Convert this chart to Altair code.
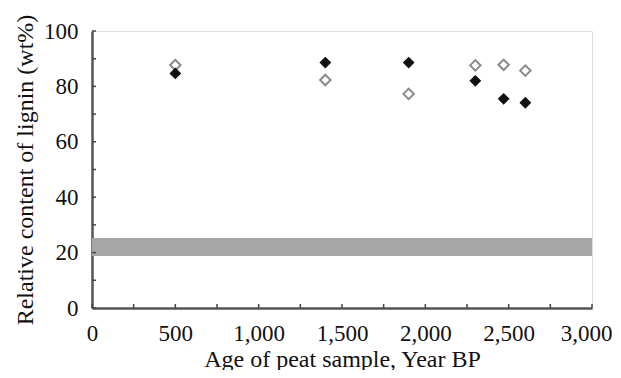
import altair as alt
import pandas as pd

# Data
ages = [500, 1400, 1900, 2300, 2470, 2600]
filled_vals = [84.7, 88.6, 88.6, 82.0, 75.5, 74.1]
open_vals = [87.7, 82.3, 77.3, 87.6, 87.8, 85.7]
band_low, band_high = 18.8, 25.3
x_ticks = list(range(0, 3001, 250))
y_ticks = list(range(0, 101, 10))

W, H = 500, 277
FONT = "Liberation Serif"
LFS = 23
TFS = 24

pts = pd.DataFrame({
    "age": ages * 2,
    "val": filled_vals + open_vals,
    "kind": ["filled"] * len(ages) + ["open"] * len(ages),
})
band = pd.DataFrame({"x": [0], "x2": [3000], "y": [band_low], "y2": [band_high]})
xt = pd.DataFrame({"t": x_ticks})
yt = pd.DataFrame({"t": y_ticks})

xscale = alt.Scale(domain=[0, 3000], nice=False)
yscale = alt.Scale(domain=[0, 100], nice=False)

xaxis = alt.Axis(
    values=list(range(0, 3001, 500)), format=",d", tickSize=0, labelPadding=14,
    labelFont=FONT, labelFontSize=LFS, labelColor="#111", grid=False,
    labelOffset={"condition": {"test": "datum.value == 3000", "value": -6}, "value": 0},
    domainColor="#555", domainWidth=2.5,
    title="Age of peat sample, Year BP", titleFont=FONT, titleFontSize=TFS,
    titleFontWeight="normal", titleColor="#111",
    titleX=W / 2, titleY=58, titleBaseline="alphabetic", titleAlign="center",
    labelFlush=False,
)
yaxis = alt.Axis(
    values=list(range(0, 101, 20)), tickSize=0, labelPadding=14,
    labelFont=FONT, labelFontSize=LFS, labelColor="#111", grid=False,
    domainColor="#555", domainWidth=2.5,
    title="Relative content of lignin (wt%)", titleFont=FONT, titleFontSize=TFS,
    titleFontWeight="normal", titleColor="#111",
    titleX=-67, titleY=H / 2, titleAngle=270, titleBaseline="middle",
    titleAlign="center", labelFlush=False,
)

band_layer = alt.Chart(band).mark_rect(fill="#a6a6a6").encode(
    x=alt.X("x:Q", scale=xscale, axis=xaxis),
    x2="x2:Q",
    y=alt.Y("y:Q", scale=yscale, axis=yaxis),
    y2="y2:Q",
)

ytick_layer = alt.Chart(yt).mark_rule(color="#444", strokeWidth=1.5).encode(
    y=alt.Y("t:Q", scale=yscale),
    x=alt.value(0), x2=alt.value(4),
)
xtick_layer = alt.Chart(xt).mark_rule(color="#444", strokeWidth=1.5).encode(
    x=alt.X("t:Q", scale=xscale),
    y=alt.value(H), y2=alt.value(H - 4),
)

open_layer = alt.Chart(pts).transform_filter(alt.datum.kind == "open").mark_point(
    shape="diamond", filled=False, fill="white", stroke="#8a8a8a", strokeWidth=2,
    size=110, opacity=1,
).encode(x=alt.X("age:Q", scale=xscale), y=alt.Y("val:Q", scale=yscale))

filled_layer = alt.Chart(pts).transform_filter(alt.datum.kind == "filled").mark_point(
    shape="diamond", filled=True, color="#111", size=140, opacity=1,
).encode(x=alt.X("age:Q", scale=xscale), y=alt.Y("val:Q", scale=yscale))

chart = alt.layer(
    band_layer, ytick_layer, xtick_layer, open_layer, filled_layer
).properties(
    width=W, height=H,
    autosize=alt.AutoSizeParams(type="none"),
    padding={"left": 84, "top": 23, "right": 21, "bottom": 62},
).configure_view(
    stroke="#8a8a8a", strokeWidth=2.5
).configure(background="white")

chart.save("out.html", embed_options={"renderer": "svg", "actions": False})
